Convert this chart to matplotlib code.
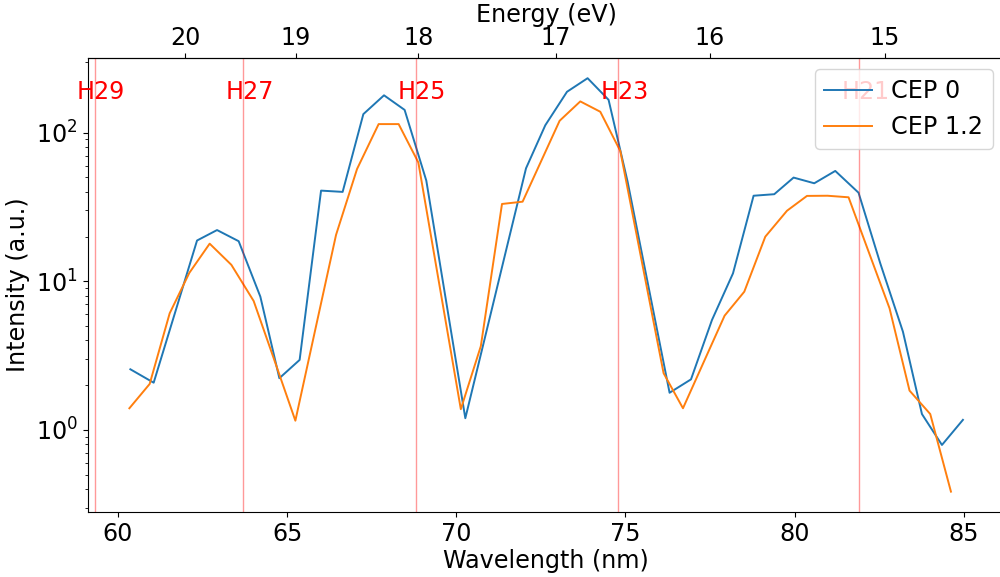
import matplotlib
matplotlib.use("Agg")
import matplotlib.pyplot as plt
import numpy as np

# ---- data ----
wl_cep0 = [60.366, 61.055, 61.696, 62.337, 62.928, 63.567, 64.208, 64.770, 65.369, 66.002,
           66.640, 67.252, 67.863, 68.472, 69.113, 69.675, 70.266, 70.887, 71.478, 72.060,
           72.630, 73.271, 73.880, 74.500, 75.062, 75.674, 76.303, 76.936, 77.556, 78.177,
           78.786, 79.397, 79.968, 80.579, 81.200, 81.888, 82.530, 83.200, 83.762, 84.353,
           84.973]
int_cep0 = [2.56, 2.08, 6.25, 18.8, 22.1, 18.6, 7.88, 2.23, 2.96, 40.7,
            39.9, 133, 178, 142, 47.5, 7.91, 1.20, 4.57, 16.4, 57.5,
            112, 188, 232, 166, 46.8, 9.34, 1.78, 2.19, 5.49, 11.3,
            37.6, 38.5, 49.8, 45.6, 55.2, 39.4, 13.2, 4.58, 1.28, 0.793,
            1.17]

wl_cep12 = [60.337, 60.937, 61.528, 62.110, 62.710, 63.351, 64.010, 64.622, 65.243, 65.833,
            66.445, 67.066, 67.704, 68.295, 68.877, 69.498, 70.133, 70.724, 71.350, 71.959,
            72.512, 73.053, 73.664, 74.255, 74.846, 75.482, 76.126, 76.699, 77.314, 77.929,
            78.511, 79.132, 79.773, 80.364, 80.972, 81.593, 82.204, 82.804, 83.395, 84.007,
            84.619]
int_cep12 = [1.40, 2.04, 6.09, 11.4, 17.9, 12.9, 7.37, 2.95, 1.155, 4.75,
             20.5, 56.9, 114, 114, 63.0, 9.52, 1.38, 3.66, 33.1, 34.3,
             64.6, 120, 162, 138, 75.2, 13.6, 2.41, 1.40, 2.87, 5.87,
             8.51, 19.95, 29.8, 37.5, 37.6, 36.7, 15.4, 6.58, 1.84, 1.28,
             0.385]

series_labels = ["CEP 0", "CEP 1.2"]
driver_wl = 1720.0
harmonic_orders = [29, 27, 25, 23, 21]
energy_ticks = [15, 16, 17, 18, 19, 20]
HC = 1239.84

FS = 17.2

fig = plt.figure(figsize=(10, 5.77), dpi=100)
ax = fig.add_axes([0.0877, 0.1121, 0.9169, 0.7882])

ax.plot(wl_cep0, int_cep0, color="C0", lw=1.4, label=series_labels[0])
ax.plot(wl_cep12, int_cep12, color="C1", lw=1.4, label=series_labels[1])
ax.set_yscale("log")

for q in harmonic_orders:
    lam = driver_wl / q
    ax.axvline(lam, color="red", alpha=0.4, lw=1)
    ax.text(lam - 0.52, 168, f"H{q}", color="red", fontsize=FS,
            ha="left", va="baseline")

ax.set_xlabel("Wavelength (nm)", fontsize=FS, labelpad=2)
ax.set_ylabel("Intensity (a.u.)", fontsize=FS)
ax.tick_params(axis="both", which="major", labelsize=FS)
ax.set_xticks([60, 65, 70, 75, 80, 85])

sec = ax.secondary_xaxis("top", functions=(lambda x: HC / np.asarray(x, dtype=float),
                                           lambda e: HC / np.asarray(e, dtype=float)))
sec.set_xticks(energy_ticks)
sec.set_xticklabels([str(e) for e in energy_ticks])
sec.tick_params(labelsize=FS, pad=2)
sec.set_xlabel("Energy (eV)", fontsize=FS, labelpad=3)

ax.legend(loc="upper right", fontsize=FS)

fig.savefig("out.png", dpi=100)
